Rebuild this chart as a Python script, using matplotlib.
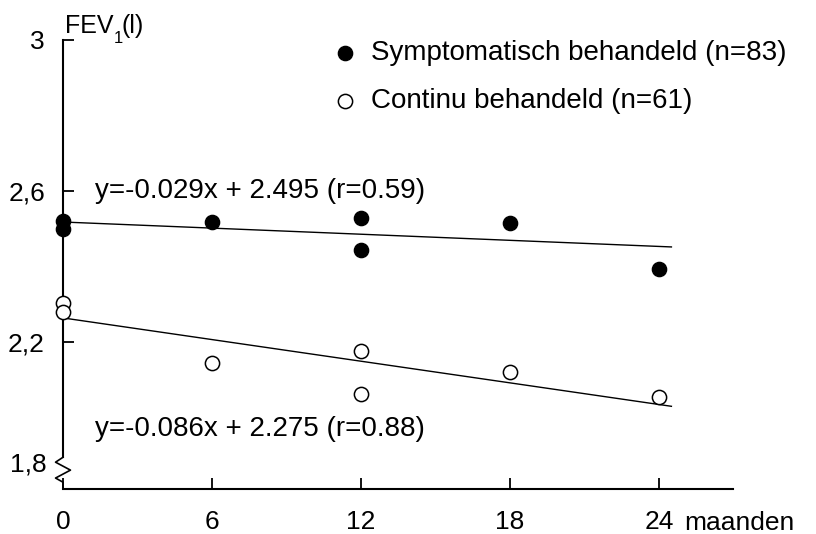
import matplotlib
matplotlib.use("Agg")
import matplotlib.pyplot as plt

plt.rcParams['font.family'] = ['Liberation Sans', 'DejaVu Sans']

# data
sym_x = [0, 0, 6, 12, 12, 18, 24]
sym_y = [2.52, 2.50, 2.518, 2.529, 2.444, 2.515, 2.393]
con_x = [0, 0, 6, 12, 12, 18, 24]
con_y = [2.303, 2.28, 2.144, 2.177, 2.062, 2.121, 2.055]
fit_x = [0, 24.5]
sym_fit = [2.518, 2.452]
con_fit = [2.264, 2.030]
x_ticks = [0, 6, 12, 18, 24]
y_ticks = [2.2, 2.6, 3.0]
y_ticklabels = ['2,2', '2,6', '3']
sym_label = 'Symptomatisch behandeld (n=83)'
con_label = 'Continu behandeld (n=61)'
sym_eq = 'y=-0.029x + 2.495 (r=0.59)'
con_eq = 'y=-0.086x + 2.275 (r=0.88)'

W, H = 816, 534
fig = plt.figure(figsize=(W/100, H/100), dpi=100)
ax = fig.add_axes([63/W, 45/H, 670/W, (489-40)/H])
ax.set_xlim(0, 26.98)
ax.set_ylim(1.811, 3.0)

fs = 20
tfs = 19
ax.plot(fit_x, sym_fit, color='black', lw=1)
ax.plot(fit_x, con_fit, color='black', lw=1)
ax.scatter(sym_x, sym_y, s=105, color='black', zorder=3, clip_on=False)
ax.scatter(con_x, con_y, s=105, facecolor='white', edgecolor='black', lw=1.1, zorder=3, clip_on=False)

for s in ['top', 'right']:
    ax.spines[s].set_visible(False)
ax.spines['left'].set_bounds(1.895, 3.0)
ax.spines['left'].set_linewidth(1.5)
ax.spines['bottom'].set_linewidth(1.5)
# axis break zigzag
zx = [0, -0.3, 0.3, -0.3, 0, 0]
zy = [1.895, 1.882, 1.861, 1.840, 1.829, 1.811]
ax.plot(zx, zy, color='black', lw=1.2, clip_on=False)

ax.set_xticks(x_ticks)
ax.set_xticklabels([str(v) for v in x_ticks], fontsize=tfs)
ax.set_yticks(y_ticks)
ax.set_yticklabels(y_ticklabels, fontsize=tfs)
ax.tick_params(axis='x', direction='in', length=8, width=1.3, pad=15)
ax.tick_params(axis='y', direction='in', length=8, width=1.3, pad=13)
ax.text(-0.65, 1.876, '1,8', fontsize=tfs, ha='right', va='center')
ax.annotate('maanden', xy=(25.0, 1.811), xytext=(0, -29.5), textcoords='offset points',
            fontsize=tfs, ha='left', va='baseline', annotation_clip=False)

# y axis title FEV1(l)
base = (0.08, 3.0185)
ax.annotate('FEV', xy=base, xytext=(0, 0), textcoords='offset points',
            fontsize=18, ha='left', va='baseline', annotation_clip=False)
ax.annotate('1', xy=base, xytext=(35, -7.2), textcoords='offset points',
            fontsize=12, ha='left', va='baseline', annotation_clip=False)
ax.annotate('(l)', xy=base, xytext=(41, 0), textcoords='offset points',
            fontsize=18, ha='left', va='baseline', annotation_clip=False)

ax.text(1.3, 2.6, sym_eq, fontsize=fs, ha='left', va='center')
ax.text(1.3, 1.97, con_eq, fontsize=fs, ha='left', va='center')

# legend
ax.scatter([11.35], [2.965], s=105, color='black', clip_on=False)
ax.text(12.4, 2.965, sym_label, fontsize=fs, ha='left', va='center')
ax.scatter([11.35], [2.838], s=105, facecolor='white', edgecolor='black', lw=1.1, clip_on=False)
ax.text(12.4, 2.838, con_label, fontsize=fs, ha='left', va='center')

fig.savefig('out.png', dpi=100)
